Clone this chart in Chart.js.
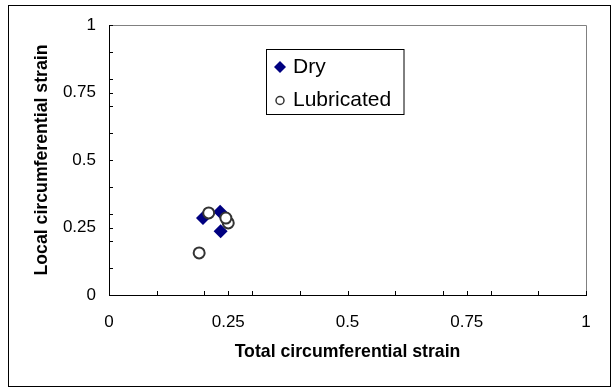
<!DOCTYPE html>
<html>
<head>
<meta charset="utf-8">
<script src="https://cdn.jsdelivr.net/npm/chart.js@4/dist/chart.umd.min.js"></script>
<style>
  html, body { margin: 0; padding: 0; background: #fff; }
  #wrap { position: relative; width: 613px; height: 388px; }
</style>
</head>
<body>
<div id="wrap"><canvas id="c" width="613" height="388"></canvas></div>
<script>
// Strain measurements: total vs. local circumferential strain
const dryTotal = [0.197, 0.233, 0.234];
const dryLocal = [0.285, 0.308, 0.236];
const lubTotal = [0.189, 0.250, 0.245, 0.209];
const lubLocal = [0.156, 0.267, 0.285, 0.304];

// Labelled tick values and the finer tick marks between them
const labelTicks = [0, 0.25, 0.5, 0.75, 1];
const minorTicks = [0.1, 0.2, 0.3, 0.4, 0.5, 0.6, 0.7, 0.8, 0.9];
const tickValues = Array.from(new Set(labelTicks.concat(minorTicks))).sort((a, b) => a - b);

const seriesNames = ['Dry', 'Lubricated'];
const xTitle = 'Total circumferential strain';
const yTitle = 'Local circumferential strain';

const toPoints = (xs, ys) => xs.map((x, i) => ({ x: x, y: ys[i] }));

const FONT = "'Liberation Sans', Arial, sans-serif";

function isLabelled(v) {
  return labelTicks.some(t => Math.abs(t - v) < 1e-9);
}

function setTicks(scale) {
  scale.ticks = tickValues.map(v => ({ value: v }));
}

// Page frame, plot border, inward tick marks and the boxed legend
const decorations = {
  id: 'decorations',
  beforeDraw(chart) {
    const ctx = chart.ctx;
    ctx.save();
    ctx.fillStyle = '#fff';
    ctx.fillRect(0, 0, chart.width, chart.height);
    ctx.strokeStyle = '#000';
    ctx.lineWidth = 1;
    ctx.strokeRect(8.5, 5.5, 602, 381);
    ctx.restore();
  },
  beforeDatasetsDraw(chart) {
    const ctx = chart.ctx;
    const a = chart.chartArea;
    ctx.save();
    ctx.strokeStyle = '#808080';
    ctx.lineWidth = 1;
    ctx.beginPath();
    ctx.moveTo(Math.round(a.left), Math.round(a.top) + 0.5);
    ctx.lineTo(Math.round(a.right) + 0.5, Math.round(a.top) + 0.5);
    ctx.lineTo(Math.round(a.right) + 0.5, Math.round(a.bottom));
    ctx.stroke();

    ctx.strokeStyle = '#000';
    const xs = chart.scales.x, ys = chart.scales.y;
    const len = 4;
    ctx.beginPath();
    xs.ticks.forEach(t => {
      const px = Math.round(xs.getPixelForValue(t.value)) + 0.5;
      ctx.moveTo(px, Math.round(a.bottom));
      ctx.lineTo(px, Math.round(a.bottom) - len);
    });
    ys.ticks.forEach(t => {
      const py = Math.round(ys.getPixelForValue(t.value)) + 0.5;
      ctx.moveTo(Math.round(a.left), py);
      ctx.lineTo(Math.round(a.left) + len, py);
    });
    ctx.stroke();
    ctx.restore();
  },
  afterDatasetsDraw(chart) {
    const ctx = chart.ctx;
    const box = { x: 266.5, y: 49.5, w: 137.5, h: 65 };
    const rows = [67, 100.5];
    ctx.save();
    ctx.fillStyle = '#fff';
    ctx.fillRect(box.x, box.y, box.w, box.h);
    ctx.strokeStyle = '#000';
    ctx.lineWidth = 1;
    ctx.strokeRect(box.x, box.y, box.w, box.h);
    chart.data.datasets.forEach((ds, i) => {
      const cy = rows[i];
      const cx = 280;
      ctx.beginPath();
      if (ds.pointStyle === 'rectRot') {
        const r = 6;
        ctx.moveTo(cx, cy - r);
        ctx.lineTo(cx + r, cy);
        ctx.lineTo(cx, cy + r);
        ctx.lineTo(cx - r, cy);
        ctx.closePath();
        ctx.fillStyle = ds.backgroundColor;
        ctx.fill();
      } else {
        ctx.arc(cx, cy, 4, 0, Math.PI * 2);
        ctx.fillStyle = '#fff';
        ctx.fill();
        ctx.strokeStyle = ds.borderColor;
        ctx.lineWidth = 1.5;
        ctx.stroke();
      }
      ctx.fillStyle = '#000';
      ctx.font = '21px ' + FONT;
      ctx.textBaseline = 'middle';
      ctx.textAlign = 'left';
      ctx.fillText(ds.label, 293, cy);
    });
    ctx.restore();
  }
};

new Chart(document.getElementById('c'), {
  type: 'scatter',
  data: {
    datasets: [
      {
        label: seriesNames[0],
        data: toPoints(dryTotal, dryLocal),
        pointStyle: 'rectRot',
        pointRadius: 7,
        backgroundColor: '#000080',
        borderColor: '#000080',
        borderWidth: 0,
        order: 2
      },
      {
        label: seriesNames[1],
        data: toPoints(lubTotal, lubLocal),
        pointStyle: 'circle',
        pointRadius: 5.5,
        backgroundColor: '#ffffff',
        borderColor: '#333333',
        borderWidth: 2,
        order: 1
      }
    ]
  },
  options: {
    responsive: false,
    animation: false,
    events: [],
    layout: { padding: { left: 8, right: 27, top: 25, bottom: 0 } },
    plugins: { legend: { display: false }, tooltip: { enabled: false } },
    scales: {
      x: {
        type: 'linear',
        min: 0, max: 1,
        afterBuildTicks: setTicks,
        afterFit(scale) { scale.height = 93; },
        grid: { display: false, drawTicks: false },
        border: { display: true, color: '#000', width: 1 },
        ticks: {
          autoSkip: false,
          maxRotation: 0,
          padding: 17,
          color: '#000',
          font: { family: FONT, size: 17 },
          callback: v => isLabelled(v) ? String(v) : ''
        },
        title: {
          display: true,
          text: xTitle,
          color: '#000',
          font: { family: FONT, size: 17.7, weight: 'bold' },
          padding: { top: 0, bottom: 25 }
        }
      },
      y: {
        type: 'linear',
        min: 0, max: 1,
        afterBuildTicks: setTicks,
        afterFit(scale) { scale.width = 101; },
        grid: { display: false, drawTicks: false },
        border: { display: true, color: '#000', width: 1 },
        ticks: {
          autoSkip: false,
          padding: 13,
          color: '#000',
          font: { family: FONT, size: 17 },
          callback: v => isLabelled(v) ? String(v) : ''
        },
        title: {
          display: true,
          text: yTitle,
          color: '#000',
          font: { family: FONT, size: 17.7, weight: 'bold' },
          padding: { top: 23, bottom: 0 }
        }
      }
    }
  },
  plugins: [decorations]
});
</script>
</body>
</html>
